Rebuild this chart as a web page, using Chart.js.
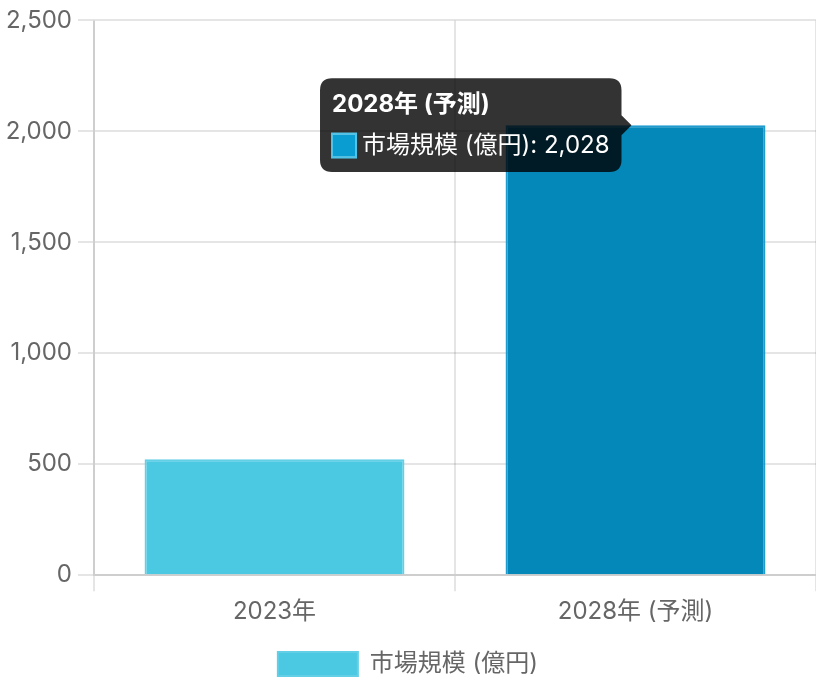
<!DOCTYPE html>
<html>
<head>
<meta charset="utf-8">
<script src="https://cdn.jsdelivr.net/npm/chart.js@4"></script>
<style>
  html, body { margin: 0; padding: 0; background: #fff; }
  #wrap { width: 816px; height: 696px; }
</style>
</head>
<body>
<div id="wrap"><canvas id="c" width="816" height="696"></canvas></div>
<script>
const categories = ['2023年', '2028年 (予測)'];
const seriesLabel = '市場規模 (億円)';
const marketSize = [522, 2028];
const barColors = ['#4BC9E3', '#0A9DD1'];
const barBorders = ['#62CFE7', '#4FC4E8'];
const barHover = ['#2FB8D6', '#0487B9'];
const barHoverBorders = ['#3FC0DC', '#1E9CD0'];
const yTicks = { min: 0, max: 2500, step: 500 };

Chart.defaults.font.family = "Inter, 'Noto Sans CJK JP', sans-serif";
Chart.defaults.font.size = 24;
Chart.defaults.color = '#666';

const chart = new Chart(document.getElementById('c'), {
  type: 'bar',
  data: {
    labels: categories,
    datasets: [{
      label: seriesLabel,
      data: marketSize,
      backgroundColor: barColors,
      borderColor: barBorders,
      hoverBackgroundColor: barHover,
      hoverBorderColor: barHoverBorders,
      borderWidth: 2
    }]
  },
  options: {
    responsive: false,
    animation: false,
    layout: { padding: { top: 6, left: 0, right: 0, bottom: 10 } },
    scales: {
      x: {
        grid: { lineWidth: 2, tickLength: 16 },
        border: { width: 2 },
        ticks: { padding: 6 }
      },
      y: {
        min: yTicks.min,
        max: yTicks.max,
        grid: { lineWidth: 2, tickLength: 16 },
        border: { width: 2 },
        ticks: { stepSize: yTicks.step, padding: 6 },
        afterFit: (scale) => { scale.width = 94; }
      }
    },
    plugins: {
      legend: {
        position: 'bottom',
        labels: { boxWidth: 80, boxHeight: 24, padding: 20 }
      },
      tooltip: {
        padding: 12,
        caretSize: 10,
        caretPadding: 4,
        cornerRadius: 12,
        titleMarginBottom: 12,
        titleSpacing: 4,
        bodySpacing: 4,
        titleFont: { size: 24, weight: 'bold' },
        bodyFont: { size: 24 },
        boxPadding: 4
      }
    }
  }
});
chart.setActiveElements([{ datasetIndex: 0, index: 1 }]);
chart.tooltip.setActiveElements([{ datasetIndex: 0, index: 1 }], { x: 0, y: 0 });
chart.update();
</script>
</body>
</html>
